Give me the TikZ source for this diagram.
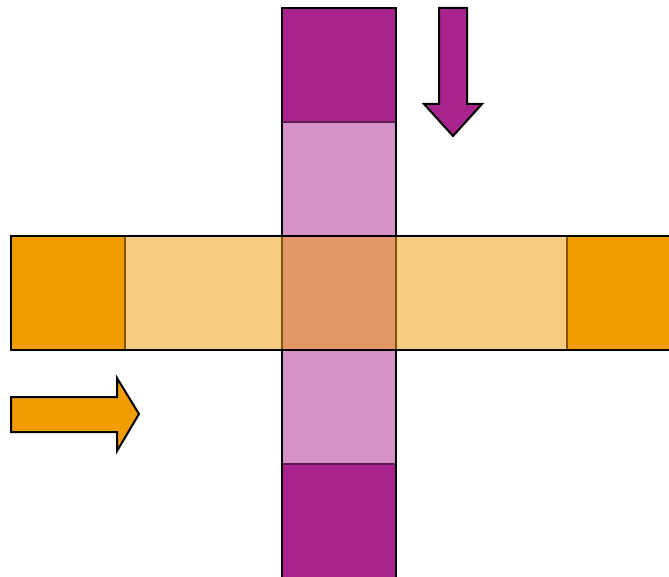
\documentclass[tikz,border=0pt]{standalone}
\usepackage{tikz}
\usetikzlibrary{arrows.meta}

\definecolor{plumDark}{HTML}{A8238E}
\definecolor{plumLight}{HTML}{D492C6}
\definecolor{plumEdge}{HTML}{5E1A52}
\definecolor{amberDark}{HTML}{F39C00}
\definecolor{amberLight}{HTML}{F6CC82}
\definecolor{amberEdge}{HTML}{7E5606}
\definecolor{crossMix}{HTML}{E19766}

\begin{document}
\begin{tikzpicture}[x=1pt, y=-1pt,
    outline/.style={line width=2.4pt, black, line join=miter},
    plumline/.style={line width=1.4pt, plumEdge},
    amberline/.style={line width=1.4pt, amberEdge},
    arrowbody/.style={line width=2pt, black, line join=miter}]
  \useasboundingbox (0,0) rectangle (669,577);
  \clip (0,0) rectangle (669,577);

  % Vertical lane
  \fill[plumDark] (282,8) rectangle (396,122);
  \fill[plumLight] (282,122) rectangle (396,236);
  \fill[plumLight] (282,350) rectangle (396,464);
  \fill[plumDark] (282,464) rectangle (396,590);
  \draw[plumline] (282,122) -- (396,122);
  \draw[plumline] (282,464) -- (396,464);
  \draw[outline] (282,590) -- (282,8) -- (396,8) -- (396,590);

  % Horizontal lane
  \fill[amberDark] (11,236) rectangle (125,350);
  \fill[amberLight] (125,236) rectangle (282,350);
  \fill[crossMix] (282,236) rectangle (396,350);
  \fill[amberLight] (396,236) rectangle (567,350);
  \fill[amberDark] (567,236) rectangle (690,350);
  \draw[amberline] (125,236) -- (125,350);
  \draw[amberline] (282,236) -- (282,350);
  \draw[amberline] (396,236) -- (396,350);
  \draw[amberline] (567,236) -- (567,350);
  \draw[outline] (690,236) -- (11,236) -- (11,350) -- (690,350);

  % Direction arrows
  \draw[arrowbody, fill=plumDark] (439,8) -- (467,8) -- (467,104) -- (482,104)
    -- (453,136) -- (424,104) -- (439,104) -- cycle;
  \draw[arrowbody, fill=amberDark] (11,397) -- (117,397) -- (117,378) -- (139,414)
    -- (117,451) -- (117,432) -- (11,432) -- cycle;
\end{tikzpicture}
\end{document}
